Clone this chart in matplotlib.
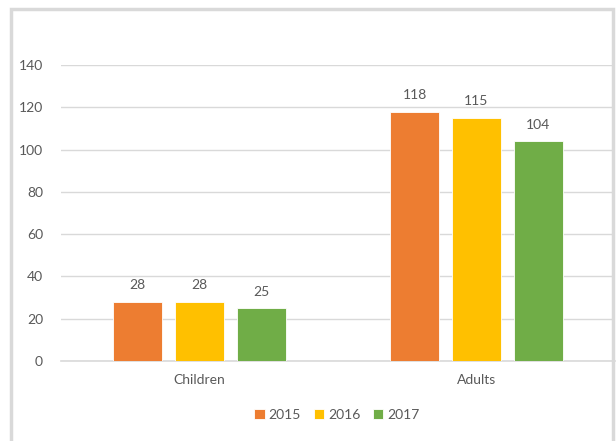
import matplotlib.pyplot as plt
from matplotlib.patches import Rectangle

categories = ['Children', 'Adults']
years = ['2015', '2016', '2017']
values_2015 = [28, 118]
values_2016 = [28, 115]
values_2017 = [25, 104]
colors = ['#ED7D31', '#FFC000', '#70AD47']

plt.rcParams['font.family'] = ['Lato', 'DejaVu Sans']
txt = '#595959'

fig = plt.figure(figsize=(6.16, 4.41), dpi=100)
ax = fig.add_axes([61 / 616, 1 - 361 / 441, 554 / 616, (361 - 65) / 441])

# cadre gris autour du graphique
fig.patches.append(Rectangle((10.5 / 616, -0.05), 602.5 / 616, 1 - 8.5 / 441 + 0.05,
                             transform=fig.transFigure, fill=False,
                             edgecolor='#d9d9d9', linewidth=2.5))

largeur = 0.177
decalage = 0.2235
x = list(range(len(categories)))
series = [values_2015, values_2016, values_2017]
for i, (ano, vals) in enumerate(zip(years, series)):
    pos = [xi + (i - 1) * decalage for xi in x]
    barras = ax.bar(pos, vals, largeur, color=colors[i], edgecolor='white',
                    linewidth=0.6, label=ano, zorder=3)
    for b, v in zip(barras, vals):
        ax.annotate(str(v), (b.get_x() + b.get_width() / 2, v), xytext=(0, 7.5),
                    textcoords='offset points', ha='center', va='bottom',
                    fontsize=10, color=txt)

ax.set_xlim(-0.5, 1.5)
ax.set_ylim(0, 140)
ax.set_yticks(range(0, 141, 20))
ax.set_xticks(x)
ax.set_xticklabels(categories)
ax.tick_params(axis='both', length=0, colors=txt, labelsize=10)
ax.tick_params(axis='y', pad=13)
ax.tick_params(axis='x', pad=9)
ax.grid(axis='y', color='#d9d9d9', linewidth=1, zorder=0)
for s in ['top', 'right', 'left']:
    ax.spines[s].set_visible(False)
ax.spines['bottom'].set_color('#d9d9d9')
ax.spines['bottom'].set_linewidth(1.2)

fig.legend(loc='center', bbox_to_anchor=(337 / 616, 1 - 415 / 441), ncol=3,
           frameon=False, fontsize=10, labelcolor=txt, handlelength=0.75,
           handleheight=0.75, handletextpad=0.3, columnspacing=0.9)

plt.savefig('out.png', dpi=100)
